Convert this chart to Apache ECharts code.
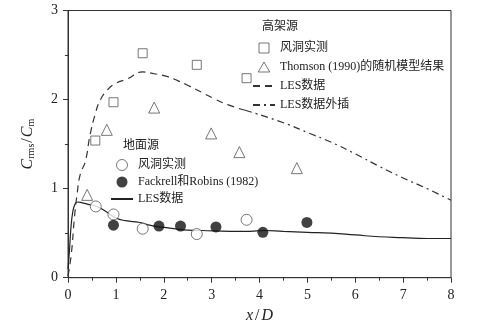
<!DOCTYPE html>
<html>
<head>
<meta charset="utf-8">
<script src="https://cdn.jsdelivr.net/npm/echarts@6/dist/echarts.min.js"></script>
<style>
  html, body { margin: 0; padding: 0; background: #fff; }
  #chart { width: 486px; height: 335px; }
</style>
</head>
<body>
<div id="chart"></div>
<script>
// 高架源
var elevTunnel = [[0.57, 1.54], [0.95, 1.97], [1.56, 2.52], [2.69, 2.39], [3.73, 2.24]]
var elevThomson = [[0.40, 0.93], [0.81, 1.66], [1.80, 1.91], [2.99, 1.62], [3.58, 1.41], [4.78, 1.23]]
var elevLes = [[0.0, 0.02], [0.07, 0.27], [0.13, 0.65], [0.19, 0.94], [0.26, 1.17], [0.36, 1.30],
  [0.46, 1.60], [0.57, 1.84], [0.67, 1.99], [0.81, 2.10], [0.99, 2.18], [1.23, 2.23], [1.56, 2.31],
  [1.8, 2.29], [2.06, 2.26], [2.3, 2.21], [2.5, 2.16], [2.8, 2.08], [3.05, 2.01], [3.35, 1.94], [3.7, 1.88]]
var elevLesExt = [[3.7, 1.88], [4.5, 1.74], [5.0, 1.63], [5.5, 1.52], [6.0, 1.39], [6.5, 1.25],
  [7.0, 1.12], [7.5, 1.0], [8.0, 0.87]]
// 地面源
var groundTunnel = [[0.58, 0.80], [0.95, 0.71], [1.56, 0.55], [2.69, 0.49], [3.73, 0.65]]
var groundFR = [[0.95, 0.59], [1.90, 0.58], [2.35, 0.58], [3.09, 0.57], [4.07, 0.51], [4.99, 0.62]]
var groundLes = [[0.0, 0.1], [0.03, 0.3], [0.06, 0.55], [0.1, 0.74], [0.15, 0.83], [0.2, 0.85],
  [0.3, 0.84], [0.45, 0.82], [0.6, 0.8], [0.8, 0.74], [1.0, 0.67], [1.2, 0.64], [1.5, 0.62],
  [1.7, 0.59], [1.9, 0.57], [2.1, 0.56], [2.35, 0.54], [2.8, 0.53], [3.4, 0.52], [3.8, 0.52],
  [4.1, 0.53], [4.5, 0.52], [5.0, 0.51], [5.5, 0.5], [6.0, 0.48], [6.5, 0.46], [7.0, 0.45],
  [7.5, 0.44], [8.0, 0.44]]

var serif = '"Liberation Serif", "DejaVu Serif", "Noto Sans CJK SC", serif'
var ink = '#222'
var squareIcon = 'path://M0,0L10,0L10,10L0,10Z'
var triIcon = 'path://M6,0L12,10.4L0,10.4Z'
var noDot = { opacity: 0 }
var thin = { borderWidth: 1 }

var chart = echarts.init(document.getElementById('chart'))
chart.setOption({
  animation: false,
  grid: {
    left: 68, right: 35, top: 10.5, bottom: 57.3,
    show: true, borderColor: '#333', borderWidth: 1
  },
  xAxis: {
    type: 'value', min: 0, max: 8, interval: 1,
    name: '{i|x}{n|/}{i|D}', nameLocation: 'middle', nameGap: 30,
    nameTextStyle: {
      rich: {
        i: { fontFamily: serif, fontStyle: 'italic', fontSize: 16, color: ink },
        n: { fontFamily: serif, fontSize: 16, color: ink, padding: [0, 2] }
      }
    },
    axisLine: { lineStyle: { color: '#333' } },
    axisTick: { inside: false, length: 5, lineStyle: { color: '#333' } },
    minorTick: { show: true, splitNumber: 2, length: 3, lineStyle: { color: '#333' } },
    splitLine: { show: false },
    axisLabel: { fontFamily: serif, fontSize: 14, color: ink, margin: 11 }
  },
  yAxis: {
    type: 'value', min: 0, max: 3, interval: 1,
    name: '{i|C}{s|rms}{n|/}{i|C}{s|m}', nameLocation: 'middle', nameGap: 32, nameRotate: 90,
    nameTextStyle: {
      rich: {
        i: { fontFamily: serif, fontStyle: 'italic', fontSize: 16, color: ink },
        s: { fontFamily: serif, fontSize: 10, color: ink, padding: [6, 0, 0, 0] },
        n: { fontFamily: serif, fontSize: 16, color: ink, padding: [0, 1] }
      }
    },
    axisLine: { show: true, lineStyle: { color: '#333' } },
    axisTick: { show: true, inside: false, length: 5, lineStyle: { color: '#333' } },
    minorTick: { show: true, splitNumber: 2, length: 3, lineStyle: { color: '#333' } },
    splitLine: { show: false },
    axisLabel: { fontFamily: serif, fontSize: 14, color: ink, margin: 10 }
  },
  graphic: [
    { type: 'text', left: 262, top: 21, style: { text: '高架源', font: '12px ' + serif, fill: ink } },
    { type: 'text', left: 123, top: 140, style: { text: '地面源', font: '12px ' + serif, fill: ink } }
  ],
  legend: [
    {
      left: 247, top: 36, orient: 'vertical', itemWidth: 22, itemHeight: 10, itemGap: 5,
      textStyle: { fontFamily: serif, fontSize: 12, color: ink, lineHeight: 14 },
      data: [
        { name: '风洞实测', icon: squareIcon, itemStyle: thin },
        { name: 'Thomson (1990)的随机模型结果', icon: triIcon, itemStyle: thin },
        { name: 'LES数据', itemStyle: noDot },
        { name: 'LES数据外插', itemStyle: noDot }
      ]
    },
    {
      left: 105, top: 153, orient: 'vertical', itemWidth: 22, itemHeight: 11, itemGap: 3,
      textStyle: { fontFamily: serif, fontSize: 12, color: ink, lineHeight: 14 },
      data: [
        { name: '风洞实测 ', icon: 'circle', itemStyle: thin },
        { name: 'Fackrell和Robins (1982)', icon: 'circle' },
        { name: 'LES数据 ', itemStyle: noDot }
      ]
    }
  ],
  series: [
    {
      name: '风洞实测', type: 'scatter', data: elevTunnel, symbol: 'rect', symbolSize: 9,
      itemStyle: { color: '#fff', borderColor: '#555', borderWidth: 1 }
    },
    {
      name: 'Thomson (1990)的随机模型结果', type: 'scatter', data: elevThomson, symbol: 'triangle', symbolSize: 11,
      itemStyle: { color: '#fff', borderColor: '#555', borderWidth: 1 }
    },
    {
      name: 'LES数据', type: 'line', data: elevLes, symbol: 'none', smooth: true,
      itemStyle: { color: '#333' },
      lineStyle: { color: '#333', width: 1.2, type: [7, 5] }
    },
    {
      name: 'LES数据外插', type: 'line', data: elevLesExt, symbol: 'none', smooth: true,
      itemStyle: { color: '#333' },
      lineStyle: { color: '#333', width: 1.2, type: [7, 4, 2, 4] }
    },
    {
      name: '风洞实测 ', type: 'scatter', data: groundTunnel, symbol: 'circle', symbolSize: 11,
      itemStyle: { color: '#fff', borderColor: '#555', borderWidth: 1 }, z: 4
    },
    {
      name: 'Fackrell和Robins (1982)', type: 'scatter', data: groundFR, symbol: 'circle', symbolSize: 11,
      itemStyle: { color: '#111' }, z: 4
    },
    {
      name: 'LES数据 ', type: 'line', data: groundLes, symbol: 'none', smooth: true,
      itemStyle: { color: '#222' },
      lineStyle: { color: '#222', width: 1.2, type: 'solid' }
    }
  ]
})
</script>
</body>
</html>
